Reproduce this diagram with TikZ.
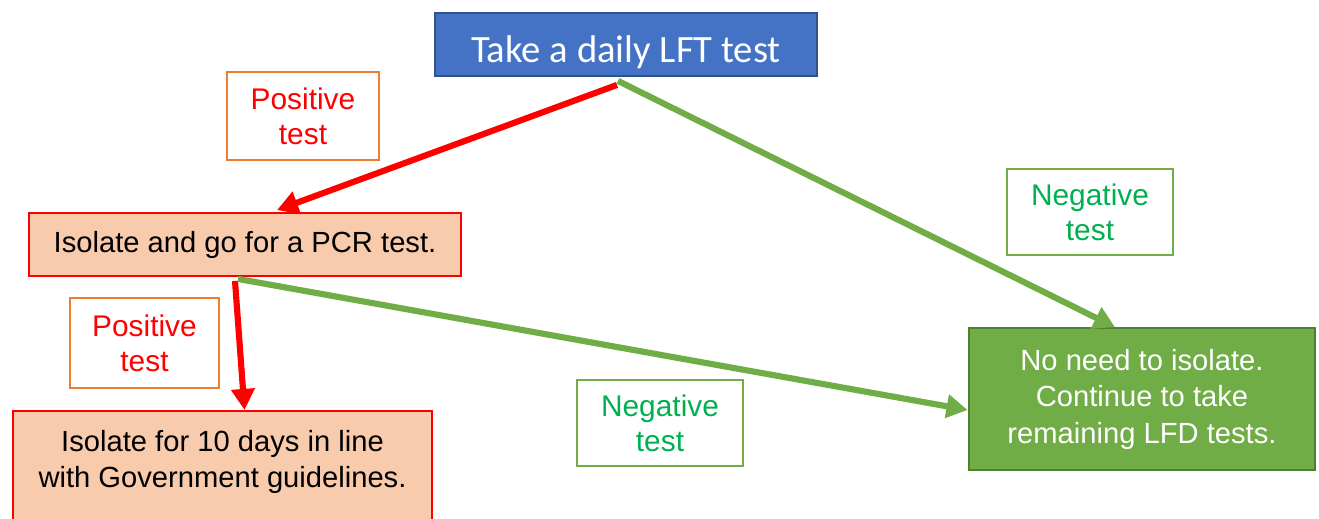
\documentclass[tikz,border=0pt]{standalone}
\usepackage{fontspec}
\setmainfont{Liberation Sans}
\newfontfamily\calibri{Carlito}
\usetikzlibrary{arrows.meta, calc}

\definecolor{lftblue}{HTML}{4472C4}
\definecolor{lftedge}{HTML}{2F528F}
\definecolor{peach}{HTML}{F8CBAD}
\definecolor{okgreen}{HTML}{70AD47}
\definecolor{okedge}{HTML}{507E32}
\definecolor{orangeedge}{HTML}{ED7D31}
\definecolor{negtext}{HTML}{00B050}

\begin{document}
\begin{tikzpicture}[x=0.02cm, y=-0.02cm,
    box/.style={draw, line width=1.2pt, align=center, inner sep=0pt},
    isobox/.style={box, draw=red, fill=peach, font=\fontsize{16.6}{20.5}\selectfont},
    poslabel/.style={box, draw=orangeedge, text=red, minimum width=152*0.567pt,
        minimum height=88*0.567pt, font=\fontsize{17}{20}\selectfont},
    neglabel/.style={box, draw=okgreen, text=negtext, minimum width=166*0.567pt,
        minimum height=87*0.567pt, font=\fontsize{17}{20}\selectfont},
    redarrow/.style={-{Triangle[width=13pt, length=12pt]}, red, line width=3.5pt},
    greenarrow/.style={-{Triangle[width=13pt, length=12pt]}, okgreen, line width=3.5pt}]
    \useasboundingbox (0,0) rectangle (1319,518);

    % boxes
    \node (lft) at (626,44.5) [box, draw=lftedge, fill=lftblue, text=white,
        minimum width=384*0.567pt, minimum height=63*0.567pt, text height=24.5pt, text depth=4.5pt,
        font=\calibri\fontsize{22}{26}\selectfont] {Take a daily LFT test};
    \node (pcr) at (245,244.5) [isobox, minimum width=434*0.567pt,
        minimum height=63*0.567pt] {Isolate and go for a PCR test.};
    \node (iso) at (222.5,410) [isobox, anchor=north, minimum width=421*0.567pt,
        minimum height=130*0.567pt] {Isolate for 10 days in line\\with Government guidelines.\\[-7pt] \strut};
    \node (noiso) at (1142,399) [box, draw=okedge, fill=okgreen, text=white,
        minimum width=348*0.567pt, minimum height=142*0.567pt,
        font=\fontsize{16.6}{20.8}\selectfont] {No need to isolate.\\Continue to take\\remaining LFD tests.};

    % labels
    \node (pos1) at (303,116) [poslabel] {Positive\\test};
    \node (pos2) at (144.5,343) [poslabel, minimum width=149*0.567pt, minimum height=90*0.567pt] {Positive\\test};
    \node (neg1) at (1090,212) [neglabel] {Negative\\test};
    \node (neg2) at (660,423) [neglabel] {Negative\\test};

    % arrows
    \draw [redarrow] ($(lft.south)+(-9,8)$) -- ($(pcr.north)+(32,-2)$);
    \draw [greenarrow] ($(lft.south)+(-8,4)$) -- ($(noiso.north)+(-27,0)$);
    \draw [redarrow] ($(pcr.south)+(-10,4)$) -- ($(iso.north)+(22,0)$);
    \draw [greenarrow] ($(pcr.south)+(-7,2)$) -- ($(noiso.west)+(0,11)$);
\end{tikzpicture}
\end{document}
